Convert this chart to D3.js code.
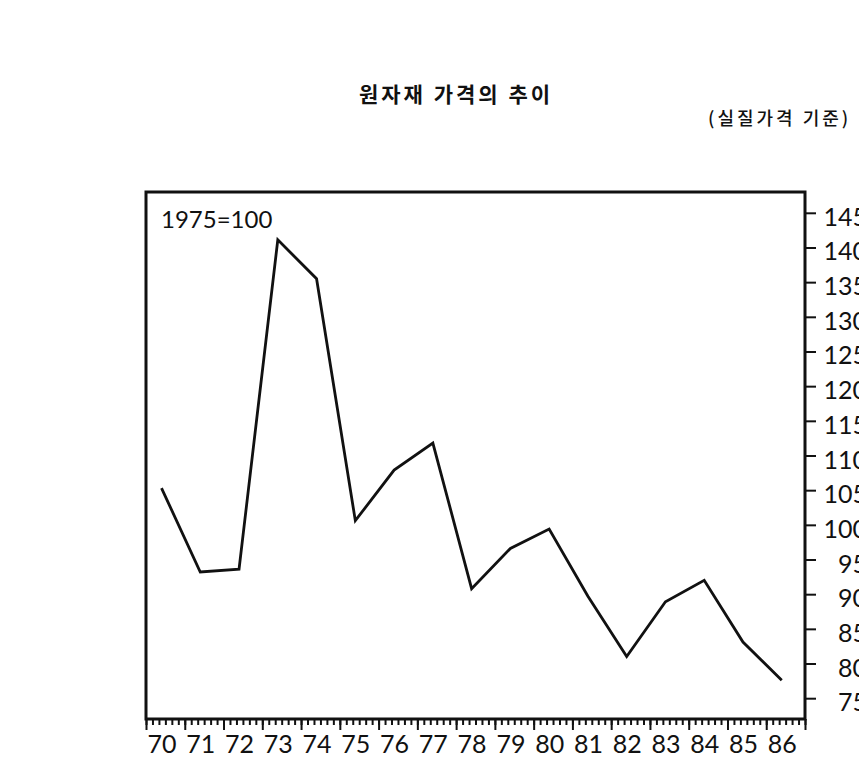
<!DOCTYPE html>
<html>
<head>
<meta charset="utf-8">
<script src="https://cdn.jsdelivr.net/npm/d3@7/dist/d3.min.js"></script>
<style>
  body { margin: 0; background: #fff; overflow: hidden; }
  svg { display: block; }
  .num { font-family: Lato, "Open Sans", sans-serif; fill: #111; }
</style>
</head>
<body>
<div id="chart"></div>
<script>
// 원자재 가격의 추이 (1975=100, 실질가격 기준)
const years = [70, 71, 72, 73, 74, 75, 76, 77, 78, 79, 80, 81, 82, 83, 84, 85, 86];
const priceIndex = [105.3, 93.2, 93.6, 141.1, 135.5, 100.6, 107.9, 111.8, 90.8, 96.6, 99.4, 89.7, 81.0, 88.9, 92.0, 83.1, 77.6];
const yTickValues = [75, 80, 85, 90, 95, 100, 105, 110, 115, 120, 125, 130, 135, 140, 145];
const titleText = "원자재 가격의 추이";
const subtitleText = "(실질가격 기준)";
const baseText = "1975=100";

const width = 859, height = 784;
const frame = { left: 146, top: 192, right: 805, bottom: 719 };

const svg = d3.select("#chart").append("svg")
  .attr("width", width)
  .attr("height", height);

const x = d3.scaleLinear()
  .domain([69.6, 86.6])
  .range([frame.left, frame.right]);

const y = d3.scaleLinear()
  .domain([72, 148])
  .range([frame.bottom, frame.top]);

// titles
svg.append("text")
  .attr("x", 456).attr("y", 102)
  .attr("text-anchor", "middle")
  .style("font-family", '"Noto Sans CJK KR", sans-serif')
  .style("font-weight", 700)
  .style("font-size", "21px")
  .style("letter-spacing", "3px")
  .style("fill", "#111")
  .text(titleText);

svg.append("text")
  .attr("x", 708).attr("y", 125)
  .style("font-family", '"Noto Sans CJK KR", sans-serif')
  .style("font-weight", 500)
  .style("font-size", "18px")
  .style("letter-spacing", "3px")
  .style("fill", "#111")
  .text(subtitleText);

// x axis ticks (ruler style: 6 small ticks per year, long ones each year)
const minorTicks = d3.range(0, 103).map(i => x.domain()[0] + i / 6).filter(v => v <= x.domain()[1] + 1e-6);
const majorTicks = minorTicks.filter((v, i) => i % 6 === 0);

const xMinor = svg.append("g")
  .attr("transform", `translate(0,${frame.bottom})`)
  .call(d3.axisBottom(x).tickValues(minorTicks).tickSize(6).tickFormat(""));
const xMajor = svg.append("g")
  .attr("transform", `translate(0,${frame.bottom})`)
  .call(d3.axisBottom(x).tickValues(majorTicks).tickSize(11).tickFormat(""));
const xLabels = svg.append("g")
  .attr("transform", `translate(0,${frame.bottom})`)
  .call(d3.axisBottom(x).tickValues(years).tickSize(0).tickPadding(16).tickFormat(d => d));

[xMinor, xMajor, xLabels].forEach(g => {
  g.select(".domain").remove();
  g.selectAll("line").attr("stroke", "#111").attr("stroke-width", 2);
});
xLabels.selectAll("text")
  .attr("class", "num")
  .style("font-size", "25px");

// right y axis
const yAxis = svg.append("g")
  .attr("transform", `translate(${frame.right},0)`)
  .call(d3.axisRight(y).tickValues(yTickValues).tickSize(11).tickPadding(0));
yAxis.select(".domain").remove();
yAxis.selectAll("line").attr("stroke", "#111").attr("stroke-width", 2);
yAxis.selectAll("text")
  .attr("class", "num")
  .attr("text-anchor", "end")
  .attr("x", 62)
  .attr("dy", "0.5em")
  .style("font-size", "25px");

// frame
svg.append("rect")
  .attr("x", frame.left)
  .attr("y", frame.top)
  .attr("width", frame.right - frame.left)
  .attr("height", frame.bottom - frame.top)
  .attr("fill", "none")
  .attr("stroke", "#111")
  .attr("stroke-width", 3);

svg.append("text")
  .attr("class", "num")
  .attr("x", 161).attr("y", 228)
  .style("font-size", "24px")
  .text(baseText);

// data line
const line = d3.line()
  .x((d, i) => x(years[i]))
  .y(d => y(d));

svg.append("path")
  .datum(priceIndex)
  .attr("d", line)
  .attr("fill", "none")
  .attr("stroke", "#111")
  .attr("stroke-width", 2.8)
  .attr("stroke-linejoin", "miter");
</script>
</body>
</html>
